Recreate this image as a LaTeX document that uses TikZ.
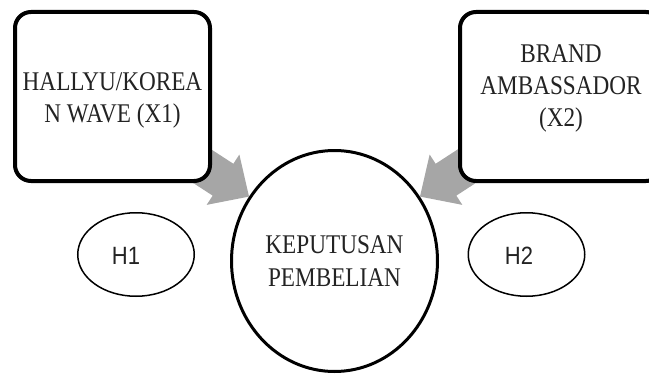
\documentclass[tikz,border=0pt]{standalone}
\usepackage{fontspec}
\setmainfont{Liberation Serif}
\newfontfamily\boxfont[FakeStretch=0.86]{Liberation Serif}
\newfontfamily\hfont[FakeStretch=0.88]{Liberation Sans}
\usetikzlibrary{shapes.geometric}
\pgfdeclarelayer{background}
\pgfsetlayers{background,main}
\definecolor{arrowgray}{RGB}{166,166,166}
\definecolor{txt}{RGB}{35,35,35}
\begin{document}
\begin{tikzpicture}[x=1pt,y=1pt,
  varbox/.style={draw=black, line width=4pt, rounded corners=16pt, fill=white, rectangle,
    minimum width=195pt, minimum height=169pt, inner sep=0pt},
  vartext/.style={font=\boxfont\fontsize{27}{32}\selectfont, text=txt, align=center, inner sep=0pt},
  dvnode/.style={draw=black, line width=3pt, ellipse, fill=white, minimum width=206pt,
    minimum height=221pt, inner sep=0pt, font=\boxfont\fontsize{27}{33}\selectfont, text=txt, align=center},
  hyp/.style={draw=black, line width=1.5pt, ellipse, minimum width=116.5pt, minimum height=83.5pt, inner sep=0pt},
  hyptext/.style={font=\hfont\fontsize{25}{30}\selectfont, text=txt, inner sep=0pt},
  bigarrow/.style={fill=arrowgray, draw=none}]
\useasboundingbox (0,0) rectangle (649,376);
\clip (0,0) rectangle (649,376);

% boxes
\node[varbox] (x1box) at (112.5,279.5) {};
\node[vartext] (x1) at (112.5,276) {HALLYU/KOREA\\N WAVE (X1)};
\node[varbox, minimum width=202pt] (x2box) at (561,279.5) {};
\node[vartext] (x2) at (561,287.5) {BRAND\\AMBASSADOR\\(X2)};

% dependent variable
\node[dvnode] (kp) at (334.5,115) {KEPUTUSAN\\PEMBELIAN};

% hypotheses
\node[hyp] (h1e) at (136,121.5) {};
\node[hyptext] (h1) at (126,120) {H1};
\node[hyp] (h2e) at (526.5,121.5) {};
\node[hyptext] (h2) at (519,120) {H2};

% gray block arrows (behind the boxes)
\begin{pgfonlayer}{background}
\begin{scope}[shift={(kp.143)}, rotate=-33]
  \fill[bigarrow] (0,0) -- (-31,30) -- (-31,19) -- (-100,19) -- (-100,-19) -- (-31,-19) -- (-31,-30) -- cycle;
\end{scope}
\begin{scope}[shift={(kp.37)}, rotate=213]
  \fill[bigarrow] (0,0) -- (-31,30) -- (-31,19) -- (-100,19) -- (-100,-19) -- (-31,-19) -- (-31,-30) -- cycle;
\end{scope}
\end{pgfonlayer}
\end{tikzpicture}
\end{document}
